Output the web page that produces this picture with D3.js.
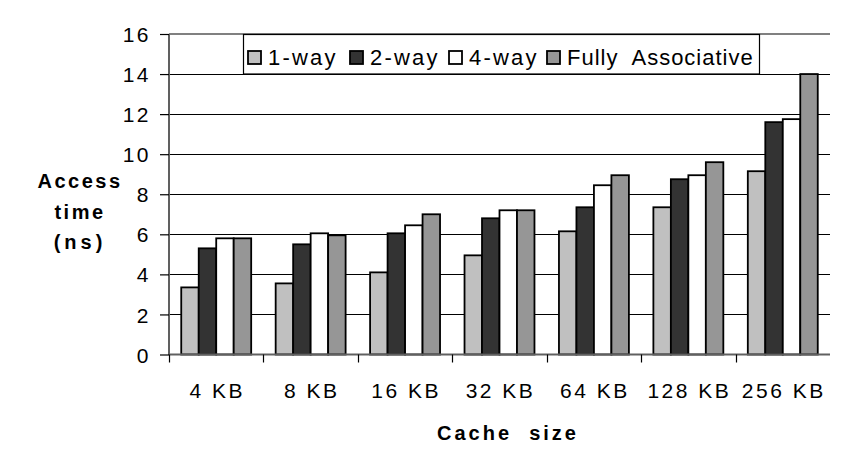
<!DOCTYPE html>
<html>
<head>
<meta charset="utf-8">
<script src="https://cdn.jsdelivr.net/npm/d3@7"></script>
<style>
  html, body { margin: 0; padding: 0; background: #fff; }
  svg { display: block; }
  text { font-family: "Liberation Sans", Arial, sans-serif; fill: #000; }
</style>
</head>
<body>
<svg id="chart" width="866" height="458"></svg>
<script>
const categories = ["4 KB", "8 KB", "16 KB", "32 KB", "64 KB", "128 KB", "256 KB"];
const seriesNames = ["1-way", "2-way", "4-way", "Fully  Associative"];
const oneWay   = [3.35, 3.55, 4.1, 4.95, 6.15, 7.35, 9.15];
const twoWay   = [5.3, 5.5, 6.05, 6.8, 7.35, 8.75, 11.6];
const fourWay  = [5.8, 6.05, 6.45, 7.2, 8.45, 8.95, 11.75];
const fullyAssoc = [5.8, 5.95, 7.0, 7.2, 8.95, 9.6, 14.0];
const yTicks = [0, 2, 4, 6, 8, 10, 12, 14, 16];
const colors = ["#c0c0c0", "#333333", "#ffffff", "#969696"];

const seriesValues = [oneWay, twoWay, fourWay, fullyAssoc];

(function () {
const svg = d3.select("#chart");
const mLeft = 169, mRight = 830, mTop = 34, mBottom = 354.5;

const x0 = d3.scaleBand().domain(categories).range([mLeft, mRight]).padding(0);
const x1 = d3.scaleBand().domain(seriesNames).range([0, x0.bandwidth()])
  .paddingInner(0).paddingOuter(0.7);
const y = d3.scaleLinear().domain([0, 16]).range([mBottom, mTop]);

// gridlines
svg.append("g").selectAll("line")
  .data(yTicks.filter(t => t > 0 && t < 16))
  .join("line")
  .attr("x1", mLeft).attr("x2", mRight)
  .attr("y1", d => Math.round(y(d)) + 0.5).attr("y2", d => Math.round(y(d)) + 0.5)
  .attr("stroke", "#000").attr("stroke-width", 1.2);

// top border (gray)
svg.append("line")
  .attr("x1", mLeft).attr("x2", mRight)
  .attr("y1", y(16)).attr("y2", y(16))
  .attr("stroke", "#808080").attr("stroke-width", 2);

// bars
const groups = svg.append("g").selectAll("g")
  .data(categories)
  .join("g")
  .attr("transform", d => `translate(${x0(d)},0)`);

groups.selectAll("rect")
  .data((c, i) => seriesNames.map((s, j) => ({ s, v: seriesValues[j][i], j })))
  .join("rect")
  .attr("x", d => x1(d.s))
  .attr("y", d => y(d.v))
  .attr("width", x1.bandwidth())
  .attr("height", d => y(0) - y(d.v))
  .attr("fill", d => colors[d.j])
  .attr("stroke", "#000")
  .attr("stroke-width", 1.8);

// y axis
const yAxis = d3.axisLeft(y).tickValues(yTicks).tickSize(9).tickPadding(9)
  .tickFormat(d3.format("d"));
const gy = svg.append("g").attr("transform", `translate(${mLeft},0)`).call(yAxis);
gy.select(".domain").attr("stroke", "#606060").attr("stroke-width", 2).attr("d", `M0,${mTop}V${mBottom + 0.5}`);
gy.selectAll(".tick line").attr("stroke", "#000").attr("stroke-width", 1.2);
gy.selectAll(".tick text")
  .style("font-family", "'Liberation Sans', Arial, sans-serif")
  .style("font-size", "21px").style("letter-spacing", "2.5px")
  .attr("dy", "0.36em");

// x axis
const xAxis = d3.axisBottom(x0).tickSize(0).tickPadding(0);
const gx = svg.append("g").attr("transform", `translate(0,${mBottom})`).call(xAxis);
gx.select(".domain").attr("stroke", "#606060").attr("stroke-width", 2)
  .attr("d", `M${mLeft},0H${mRight}`);
gx.selectAll(".tick text")
  .style("font-family", "'Liberation Sans', Arial, sans-serif")
  .style("font-size", "21px").style("letter-spacing", "2.5px")
  .attr("x", 1)
  .attr("y", 43).attr("dy", 0);
// category boundary ticks
gx.append("g").selectAll("line")
  .data(categories)
  .join("line")
  .attr("x1", d => Math.round(x0(d)) + 0.5).attr("x2", d => Math.round(x0(d)) + 0.5)
  .attr("y1", 0).attr("y2", 8)
  .attr("stroke", "#000").attr("stroke-width", 1.2);

// y axis title
const yt = svg.append("text")
  .attr("text-anchor", "middle")
  .style("font-weight", "bold").style("font-size", "20px");
[["Access", 188, "2.5px"], ["time", 219, "2.5px"], ["(ns)", 249, "4px"]].forEach(([t, yy, ls]) => {
  yt.append("tspan").attr("x", 80).attr("y", yy).style("letter-spacing", ls).text(t);
});

// x axis title
svg.append("text")
  .attr("x", 508).attr("y", 440)
  .attr("text-anchor", "middle")
  .style("font-weight", "bold").style("font-size", "20px")
  .style("letter-spacing", "3px").style("white-space", "pre")
  .text("Cache  size");

// legend
const lg = svg.append("g");
lg.append("rect")
  .attr("x", 243.5).attr("y", 34.5).attr("width", 516).attr("height", 39.5)
  .attr("fill", "#fff").attr("stroke", "#000").attr("stroke-width", 1.2);
const legendX = [248, 350, 449, 547];
seriesNames.forEach((s, j) => {
  lg.append("rect")
    .attr("x", legendX[j]).attr("y", 51).attr("width", 13).attr("height", 13)
    .attr("fill", colors[j]).attr("stroke", "#000").attr("stroke-width", 1.8);
  lg.append("text")
    .attr("x", legendX[j] + 20).attr("y", 65)
    .style("font-size", "22px").style("white-space", "pre")
    .style("letter-spacing", j === 3 ? "1px" : "2.2px")
    .text(s);
});
})();
</script>
</body>
</html>
